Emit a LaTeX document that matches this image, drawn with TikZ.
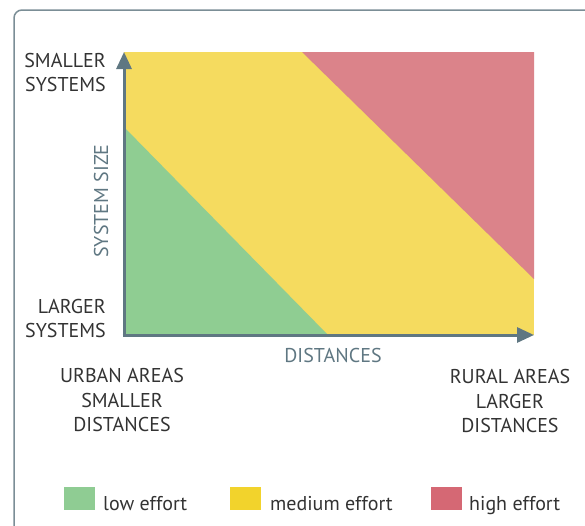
\documentclass[tikz,border=0pt]{standalone}
\usepackage{fontspec}
\setmainfont{PT Sans}
\usetikzlibrary{arrows.meta}

\definecolor{LowColor}{HTML}{8FCD92}
\definecolor{MediumColor}{HTML}{F5DB5F}
\definecolor{HighColor}{HTML}{DB838A}
\definecolor{LowKeyColor}{HTML}{8FCC93}
\definecolor{MediumKeyColor}{HTML}{F2D32C}
\definecolor{HighKeyColor}{HTML}{D56874}
\definecolor{AxisColor}{HTML}{5F7782}
\definecolor{FrameColor}{HTML}{7B8E96}
\definecolor{TextColor}{HTML}{333333}

\tikzstyle{chart-text}=[text=TextColor,
                        inner sep=0pt,
                        align=center,
                        font=\fontsize{20}{24.5}\selectfont,
                       ]
\tikzstyle{axis-text}=[chart-text, text=AxisColor]
\tikzstyle{key-box}=[rectangle,
                     inner sep=0pt,
                     minimum width=31pt,
                     minimum height=23pt,
                    ]

\begin{document}
\begin{tikzpicture}[x=1pt, y=-1pt]
\useasboundingbox (0,0) rectangle (585,525);
\draw[FrameColor, line width=1.5pt, rounded corners=8pt] (14,560) -- (14,10) -- (620,10);

\coordinate (origin) at (124,335);
\coordinate (ytip)   at (124,52);
\coordinate (xtip)   at (534,335);

\fill[MediumColor] (124,52) rectangle (534,335);
\fill[LowColor] (124,127) -- (124,335) -- (328,335) -- cycle;
\fill[HighColor] (302,52) -- (534,52) -- (534,279) -- cycle;

\draw[AxisColor, line width=3pt, -{Triangle[length=17pt,width=15pt]}] ([yshift=1.5pt]origin) -- (ytip);
\draw[AxisColor, line width=3pt, -{Triangle[length=17pt,width=15pt]}] ([xshift=-1.5pt]origin) -- (xtip);

\node at (106, 72.5)  (small_sys)  [chart-text, anchor=east, align=right] {SMALLER\\SYSTEMS};
\node at (106, 318.5) (large_sys)  [chart-text, anchor=east, align=right] {LARGER\\SYSTEMS};
\node at (101, 201)   (size_label) [axis-text, rotate=90]                 {SYSTEM SIZE};
\node at (333, 355)   (dist_label) [axis-text]                            {DISTANCES};
\node at (122, 400)   (urban)      [chart-text]                           {URBAN AREAS\\SMALLER\\DISTANCES};
\node at (510, 401)   (rural)      [chart-text]                           {RURAL AREAS\\LARGER\\DISTANCES};

\node at (79.5, 498.5)  (key_low)    [key-box, fill=LowKeyColor]    {};
\node at (245.5, 498.5) (key_medium) [key-box, fill=MediumKeyColor] {};
\node at (446.5, 498.5) (key_high)   [key-box, fill=HighKeyColor]   {};
\node at (103, 510) (key_low_text)    [chart-text, anchor=base west] {low effort};
\node at (270, 510) (key_medium_text) [chart-text, anchor=base west] {medium effort};
\node at (469, 510) (key_high_text)   [chart-text, anchor=base west] {high effort};
\end{tikzpicture}
\end{document}
